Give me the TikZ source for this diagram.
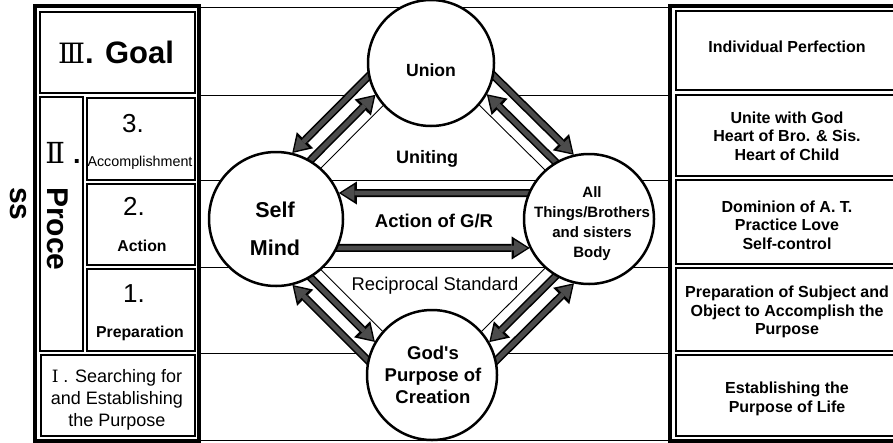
\documentclass[tikz,border=0pt]{standalone}
\usepackage{fontspec}
\setmainfont{Liberation Sans}
\newfontfamily\romfont{DejaVu Serif}
\usetikzlibrary{arrows.meta,calc}
\pgfdeclarelayer{back}
\pgfsetlayers{back,main}

\begin{document}
\begin{tikzpicture}[x=1pt,y=-1pt,
    ring/.style={circle,draw,line width=2.5pt,fill=white,inner sep=0pt},
    frame/.style={line width=3.5pt},
    cell/.style={line width=2.8pt},
    rule/.style={line width=0.9pt},
    flow/.style={line width=4.8pt,draw=black!70,shorten <=-6pt,shorten >=2.5pt,
      -{Triangle[length=13pt,width=16pt,line width=0pt]},
      preaction={draw=black,line width=8pt,shorten >=0pt,
        -{Triangle[length=18pt,width=23pt,line width=0pt]}}},
    rtxt/.style={font=\bfseries\fontsize{16}{18.5}\selectfont,align=center},
    mtxt/.style={font=\bfseries\fontsize{18.5}{22}\selectfont,align=center}]
  \useasboundingbox (0,0) rectangle (893,442);
  \clip (0,0) rectangle (893,442);

  % circles
  \node[ring,minimum size=126pt] (union) at (431,63) {};
  \node[ring,minimum size=134pt] (self) at (276,219) {};
  \node[ring,minimum size=130pt] (things) at (589,219) {};
  \node[ring,minimum size=130pt] (purpose) at (432,375) {};

  \begin{pgfonlayer}{back}
    % rows of the middle part
    \draw[rule] (200,7) -- (670,7);
    \draw[rule] (200,95) -- (670,95);
    \draw[rule] (200,180) -- (670,180);
    \draw[rule] (200,267) -- (670,267);
    \draw[rule] (200,353) -- (670,353);
    \draw[rule] (200,440) -- (670,440);
    % Self - Union
    \fill[white] ($(self.center)!68pt!3.37:(union.center)$) -- ($(self.center)!68pt!30.98:(union.center)$)
      -- ($(union.center)!64pt!-33.15:(self.center)$) -- ($(union.center)!64pt!-3.58:(self.center)$) -- cycle;
    \draw[rule] ($(self.center)!68pt!3.37:(union.center)$) -- ($(union.center)!64pt!-3.58:(self.center)$);
    \draw[flow] ($(self.center)!68pt!14.48:(union.center)$) -- ($(union.center)!64pt!-15.40:(self.center)$);
    \draw[flow] ($(union.center)!64pt!-33.15:(self.center)$) -- ($(self.center)!68pt!30.98:(union.center)$);
    % Union - Things
    \fill[white] ($(union.center)!64pt!3.58:(things.center)$) -- ($(union.center)!64pt!33.15:(things.center)$)
      -- ($(things.center)!66pt!-32.03:(union.center)$) -- ($(things.center)!66pt!-3.47:(union.center)$) -- cycle;
    \draw[rule] ($(union.center)!64pt!3.58:(things.center)$) -- ($(things.center)!66pt!-3.47:(union.center)$);
    \draw[flow] ($(things.center)!66pt!-14.93:(union.center)$) -- ($(union.center)!64pt!15.40:(things.center)$);
    \draw[flow] ($(union.center)!64pt!33.15:(things.center)$) -- ($(things.center)!66pt!-32.03:(union.center)$);
    % Things - Purpose
    \fill[white] ($(things.center)!66pt!3.47:(purpose.center)$) -- ($(things.center)!66pt!32.03:(purpose.center)$)
      -- ($(purpose.center)!66pt!-32.03:(things.center)$) -- ($(purpose.center)!66pt!-3.47:(things.center)$) -- cycle;
    \draw[rule] ($(things.center)!66pt!3.47:(purpose.center)$) -- ($(purpose.center)!66pt!-3.47:(things.center)$);
    \draw[flow] ($(things.center)!66pt!14.93:(purpose.center)$) -- ($(purpose.center)!66pt!-14.93:(things.center)$);
    \draw[flow] ($(purpose.center)!66pt!-32.03:(things.center)$) -- ($(things.center)!66pt!32.03:(purpose.center)$);
    % Purpose - Self
    \fill[white] ($(purpose.center)!66pt!3.47:(self.center)$) -- ($(purpose.center)!66pt!32.03:(self.center)$)
      -- ($(self.center)!68pt!-30.98:(purpose.center)$) -- ($(self.center)!68pt!-3.37:(purpose.center)$) -- cycle;
    \draw[rule] ($(purpose.center)!66pt!3.47:(self.center)$) -- ($(self.center)!68pt!-3.37:(purpose.center)$);
    \draw[flow] ($(self.center)!68pt!-14.48:(purpose.center)$) -- ($(purpose.center)!66pt!14.93:(self.center)$);
    \draw[flow] ($(purpose.center)!66pt!32.03:(self.center)$) -- ($(self.center)!68pt!-30.98:(purpose.center)$);
    % Self - Things
    \draw[flow] ($(things.center)!66pt!-23.20:(self.center)$) -- ($(self.center)!68pt!22.48:(things.center)$);
    \draw[flow] ($(self.center)!68pt!-25.24:(things.center)$) -- ($(things.center)!66pt!26.06:(self.center)$);
  \end{pgfonlayer}

  % circle labels
  \node[font=\bfseries\fontsize{17.6}{20}\selectfont] (uniontxt) at (431,70) {Union};
  \node[font=\bfseries\fontsize{21.5}{38}\selectfont,align=center] (selftxt) at (275,229) {Self\\Mind};
  \node[font=\bfseries\fontsize{15}{20}\selectfont,align=center] (thingstxt) at (592,224) {All\\Things/Brothers\\and sisters\\Body};
  \node[mtxt] (purposetxt) at (433,375) {God\textquotesingle s\\Purpose of\\Creation};
  % edge labels
  \node[font=\bfseries\fontsize{18}{20}\selectfont] (uniting) at (427,159) {Uniting};
  \node[mtxt] (action) at (434,221) {Action of G/R};
  \node[font=\fontsize{18.4}{20}\selectfont] (standard) at (435,286) {Reciprocal Standard};

  % left column
  \draw[frame] (35,6) rectangle (199,441);
  \draw[cell] (40,12) rectangle (195,93);
  \draw[cell] (40,97) rectangle (83,351);
  \draw[cell] (87,98) rectangle (195,180);
  \draw[cell] (87,184) rectangle (195,265);
  \draw[cell] (87,269) rectangle (195,351);
  \draw[cell] (41,355) rectangle (195,436);
  \node[font=\bfseries\fontsize{31}{36}\selectfont] (goal) at (116,52) {{\romfont\mdseries\fontsize{28}{32}\selectfont Ⅲ}. Goal};
  \node[font=\bfseries\fontsize{27}{32}\selectfont] (stage2) at (63,153) {{\romfont\mdseries\fontsize{29}{32}\selectfont Ⅱ}\hspace{8pt}.};
  \node[font=\bfseries\fontsize{30}{37}\selectfont,rotate=-90,align=left,anchor=north west,inner sep=0pt] (process) at (68,187) {Proce\\ss};
  \node[font=\fontsize{26}{30}\selectfont] (step3) at (133,124) {3.};
  \node[font=\fontsize{14.3}{17}\selectfont] (accomp) at (140,163) {Accomplishment};
  \node[font=\fontsize{26}{30}\selectfont] (step2) at (134,206) {2.};
  \node[font=\bfseries\fontsize{15.8}{18}\selectfont] (act) at (142,246) {Action};
  \node[font=\fontsize{26}{30}\selectfont] (step1) at (134,294) {1.};
  \node[font=\bfseries\fontsize{15.8}{18}\selectfont] (prep) at (140,333) {Preparation};
  \node[font=\fontsize{18}{22}\selectfont,align=center] (stage1) at (117,400) {{\romfont\fontsize{17}{22}\selectfont Ⅰ} . Searching for\\and Establishing\\the Purpose};

  % right column
  \draw[frame] (670,6) rectangle (906,441);
  \draw[cell] (676,11) rectangle (901,90);
  \draw[cell] (676,95) rectangle (901,176);
  \draw[cell] (676,180) rectangle (901,264);
  \draw[cell] (676,268) rectangle (901,351);
  \draw[cell] (676,355) rectangle (901,436);
  \node[rtxt] (perfect) at (787,47) {Individual Perfection};
  \node[rtxt] (unite) at (787,136) {Unite with God\\Heart of Bro. \& Sis.\\Heart of Child};
  \node[rtxt] (dominion) at (787,225) {Dominion of A. T.\\Practice Love\\Self-control};
  \node[rtxt] (subject) at (787,312) {Preparation of Subject and\\Object to Accomplish the\\Purpose};
  \node[rtxt] (life) at (787,399) {Establishing the\\Purpose of Life};
\end{tikzpicture}
\end{document}
